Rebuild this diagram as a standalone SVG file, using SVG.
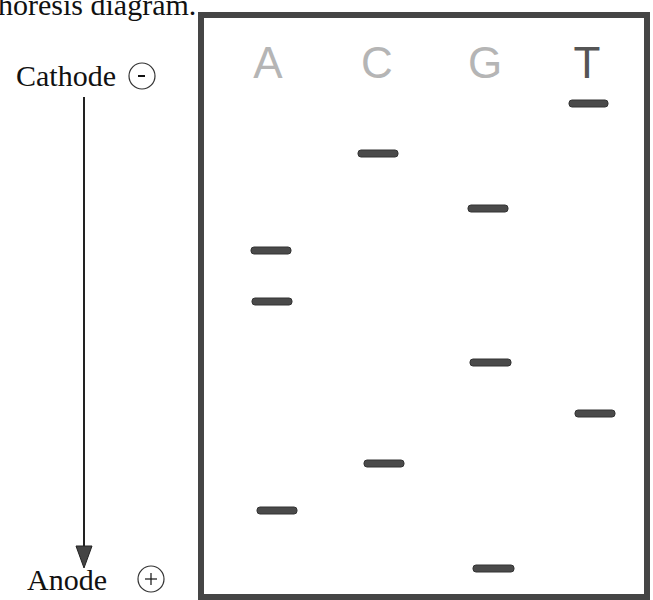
<svg xmlns="http://www.w3.org/2000/svg" width="653" height="600" viewBox="0 0 653 600">
<style>
.serif{font-family:"Liberation Serif","Times New Roman",serif;fill:#111}
.lane{font-family:"Liberation Sans",Arial,sans-serif;font-size:44px;text-anchor:middle}
.band{fill:#4a4a4a;stroke:#333;stroke-width:1}
</style>
<rect width="653" height="600" fill="#fff"/>
<text class="serif" x="-2" y="15" font-size="30">horesis diagram.</text>
<g id="cathode">
<text class="serif" x="16" y="86" font-size="30">Cathode</text>
<circle cx="142" cy="76" r="13" fill="none" stroke="#333" stroke-width="1.2"/>
<line x1="138" y1="76" x2="145" y2="76" stroke="#111" stroke-width="2"/>
</g>
<g id="anode">
<text class="serif" x="27" y="590" font-size="30">Anode</text>
<circle cx="151" cy="579" r="13" fill="none" stroke="#333" stroke-width="1.2"/>
<line x1="145" y1="579" x2="157" y2="579" stroke="#111" stroke-width="1.2"/>
<line x1="151" y1="573" x2="151" y2="585" stroke="#111" stroke-width="1.2"/>
</g>
<g id="connectors">
<line x1="84" y1="97" x2="84" y2="548" stroke="#222" stroke-width="2"/>
<polygon points="76,546 92,546 84,568" fill="#444" stroke="#222" stroke-width="1"/>
</g>
<g id="gel">
<rect x="201" y="15" width="446" height="582" fill="none" stroke="#454545" stroke-width="6"/>
</g>
<g id="labels">
<text class="lane" x="268" y="78" fill="#b5b5b5">A</text>
<text class="lane" x="377" y="78" fill="#b5b5b5">C</text>
<text class="lane" x="485" y="78" fill="#b5b5b5">G</text>
<text class="lane" x="587" y="78" fill="#555">T</text>
</g>
<g id="bands">
<rect class="band" x="569" y="100" width="39" height="7" rx="3"/>
<rect class="band" x="358" y="150" width="40" height="7" rx="3"/>
<rect class="band" x="468" y="205" width="40" height="7" rx="3"/>
<rect class="band" x="251" y="247" width="40" height="7" rx="3"/>
<rect class="band" x="252" y="298" width="40" height="7" rx="3"/>
<rect class="band" x="470" y="359" width="41" height="7" rx="3"/>
<rect class="band" x="575" y="410" width="40" height="7" rx="3"/>
<rect class="band" x="364" y="460" width="40" height="7" rx="3"/>
<rect class="band" x="257" y="507" width="40" height="7" rx="3"/>
<rect class="band" x="473" y="565" width="41" height="7" rx="3"/>
</g>
</svg>
